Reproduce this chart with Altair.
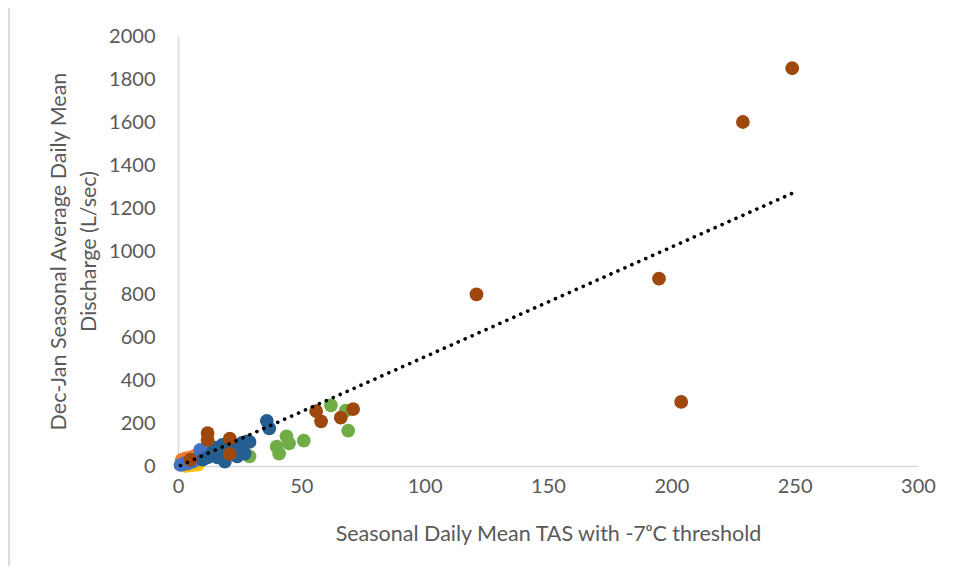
import altair as alt
import pandas as pd

# ---- data ----
yellow_x = [4, 6, 8, 3]
yellow_y = [2, 4, 6, 1]

orange_x = [1.5, 3, 5, 7, 4]
orange_y = [28, 35, 40, 48, 20]

lightblue_x = [1, 2, 3, 4, 5, 6, 8, 9, 10, 11, 12, 7]
lightblue_y = [5, 8, 15, 12, 25, 20, 35, 75, 50, 40, 60, 30]

green_x = [29, 40, 41, 44, 45, 51, 62, 69, 68]
green_y = [45, 90, 58, 138, 105, 118, 282, 165, 258]

darkblue_x = [10, 12, 14, 16, 18, 20, 22, 24, 25, 26, 27, 28, 29, 36, 37, 15, 19, 23]
darkblue_y = [30, 40, 60, 40, 98, 70, 80, 45, 90, 108, 58, 115, 112, 210, 175, 85, 20, 60]

brown_x = [249, 229, 195, 204, 121, 71, 66, 58, 56, 12, 12, 21, 21, 5]
brown_y = [1850, 1600, 872, 298, 798, 265, 225, 208, 255, 153, 121, 127, 56, 30]

trend_x = [1, 249]
trend_y = [2, 1268]

series = [
    ("Yellow", yellow_x, yellow_y, "#FFC000"),
    ("Orange", orange_x, orange_y, "#ED7D31"),
    ("LightBlue", lightblue_x, lightblue_y, "#4472C4"),
    ("Green", green_x, green_y, "#70AD47"),
    ("DarkBlue", darkblue_x, darkblue_y, "#255E91"),
    ("Brown", brown_x, brown_y, "#9E480E"),
]

rows = []
for order, (name, xs, ys, col) in enumerate(series):
    for xv, yv in zip(xs, ys):
        rows.append({"s": name, "x": xv, "y": yv, "o": order})
df = pd.DataFrame(rows)
trend = pd.DataFrame({"x": trend_x, "y": trend_y})

FONT = "Lato"
GRAY = "#595959"

xscale = alt.Scale(domain=[0, 300], nice=False, zero=True)
yscale = alt.Scale(domain=[0, 2000], nice=False)

points = alt.Chart(df).mark_circle(size=190, opacity=1).encode(
    x=alt.X("x:Q", scale=xscale,
            axis=alt.Axis(title="Seasonal Daily Mean TAS with -7ᵒC threshold",
                          values=[0, 50, 100, 150, 200, 250, 300], format="d",
                          labelFlush=False,
                          grid=False, ticks=False, domainColor="#D9D9D9",
                          domainWidth=1.5, labelPadding=10, titlePadding=27)),
    y=alt.Y("y:Q", scale=yscale,
            axis=alt.Axis(title=["Dec-Jan Seasonal Average Daily Mean", "Discharge (L/sec)"],
                          values=list(range(0, 2001, 200)), format="d",
                          labelFlush=False,
                          grid=False, ticks=False, domainColor="#D9D9D9",
                          domainWidth=1.5, labelPadding=23, titlePadding=8,
                          titleLineHeight=30)),
    color=alt.Color("s:N", scale=alt.Scale(domain=[s[0] for s in series],
                                           range=[s[3] for s in series]),
                    legend=None),
    order=alt.Order("o:Q"),
)

line = alt.Chart(trend).mark_line(
    color="black", strokeWidth=3.6, strokeDash=[0.1, 7.5], strokeCap="round"
).encode(x=alt.X("x:Q", scale=xscale), y=alt.Y("y:Q", scale=yscale))

border = alt.Chart(trend).mark_rule(color="#D9D9D9", strokeWidth=1.5).encode(
    x=alt.value(-169), y=alt.value(-40), y2=alt.value(620)
)

chart = alt.layer(points, line, border).properties(
    width=740, height=430,
    padding={"left": 170, "top": 28, "right": 20, "bottom": 100},
    autosize=alt.AutoSizeParams(type="none"),
).configure_view(stroke=None).configure_axis(
    labelFont=FONT, titleFont=FONT, labelFontSize=20, titleFontSize=21.5,
    labelColor=GRAY, titleColor=GRAY, titleFontWeight="normal",
)

chart.save("out.html", embed_options={"renderer": "svg", "actions": False})
